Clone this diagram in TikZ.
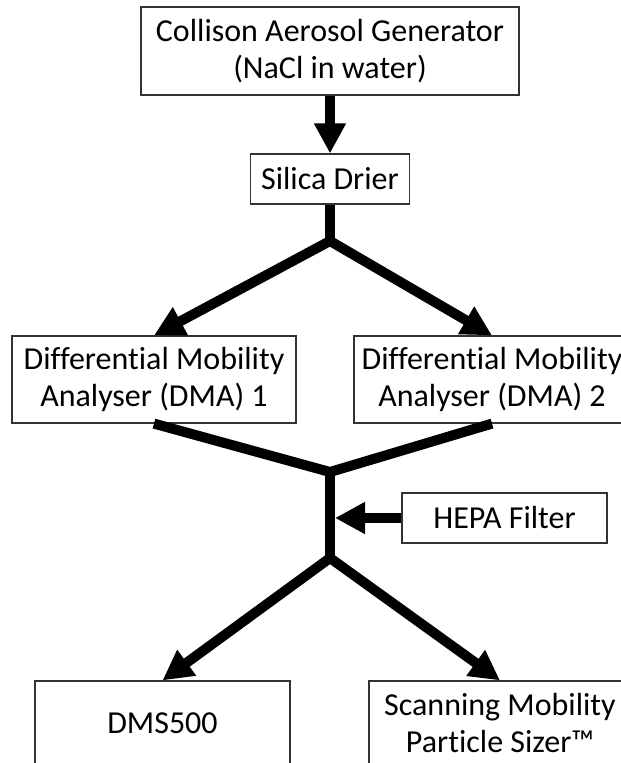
\documentclass[tikz,border=0pt]{standalone}
\usepackage{fontspec}
\setmainfont{Carlito}[Ligatures=NoCommon]
\usetikzlibrary{arrows.meta}
\tikzstyle{unit} = [rectangle, draw=black!80, line width=1.2pt, align=center, inner sep=0pt, font=\fontsize{32}{37}\selectfont]
\tikzstyle{pipe} = [draw, line width=10pt]
\tikzstyle{flow} = [draw, line width=10pt, -{Triangle[length=30pt,width=30pt]}]
\tikzstyle{fork} = [draw, line width=10pt, {Triangle[length=30pt,width=30pt]}-{Triangle[length=30pt,width=30pt]}]

\begin{document}
\begin{tikzpicture}[x=1pt, y=-1pt]
    \useasboundingbox (0,0) rectangle (621,763);
	% place nodes
	\node [unit, minimum width=378pt, minimum height=88pt] (Gen)  at (330,51)    {Collison Aerosol Generator\\(NaCl in water)};
	\node [unit, minimum width=159pt, minimum height=50pt] (Dry)  at (330,179)   {Silica Drier};
	\node [unit, minimum width=284pt, minimum height=87pt] (DMA1) at (154,379.5) {Differential Mobility\\Analyser (DMA) 1};
	\node [unit, minimum width=276pt, minimum height=87pt] (DMA2) at (492,379.5) {Differential Mobility\\Analyser (DMA) 2};
	\node [unit, minimum width=205pt, minimum height=50pt] (HEPA) at (504.5,518) {HEPA Filter};
	\node [unit, minimum width=255pt, minimum height=84pt] (DMS)  at (162.5,723) {DMS500};
	\node [unit, minimum width=262pt, minimum height=84pt] (SMPS) at (500,723)   {Scanning Mobility\\Particle Sizer™};

	% junctions
	\coordinate (S1) at (330,241);
	\coordinate (M1) at (330,472);
	\coordinate (S2) at (330,558);

	% draw edges
    \path [flow] (Gen.south) -- (Dry.north);
    \path [pipe] (Dry.south) -- (S1);
    \path [fork] (DMA1.north) -- (S1) -- (DMA2.north);
    \path [pipe] (DMA1.south) -- (M1) -- (DMA2.south);
    \path [pipe] (M1) -- (S2);
    \path [flow, shorten >=5pt] (HEPA.west) -- (HEPA.west -| S2);
    \path [fork] (DMS.north) -- (S2) -- (SMPS.north);
\end{tikzpicture}
\end{document}
